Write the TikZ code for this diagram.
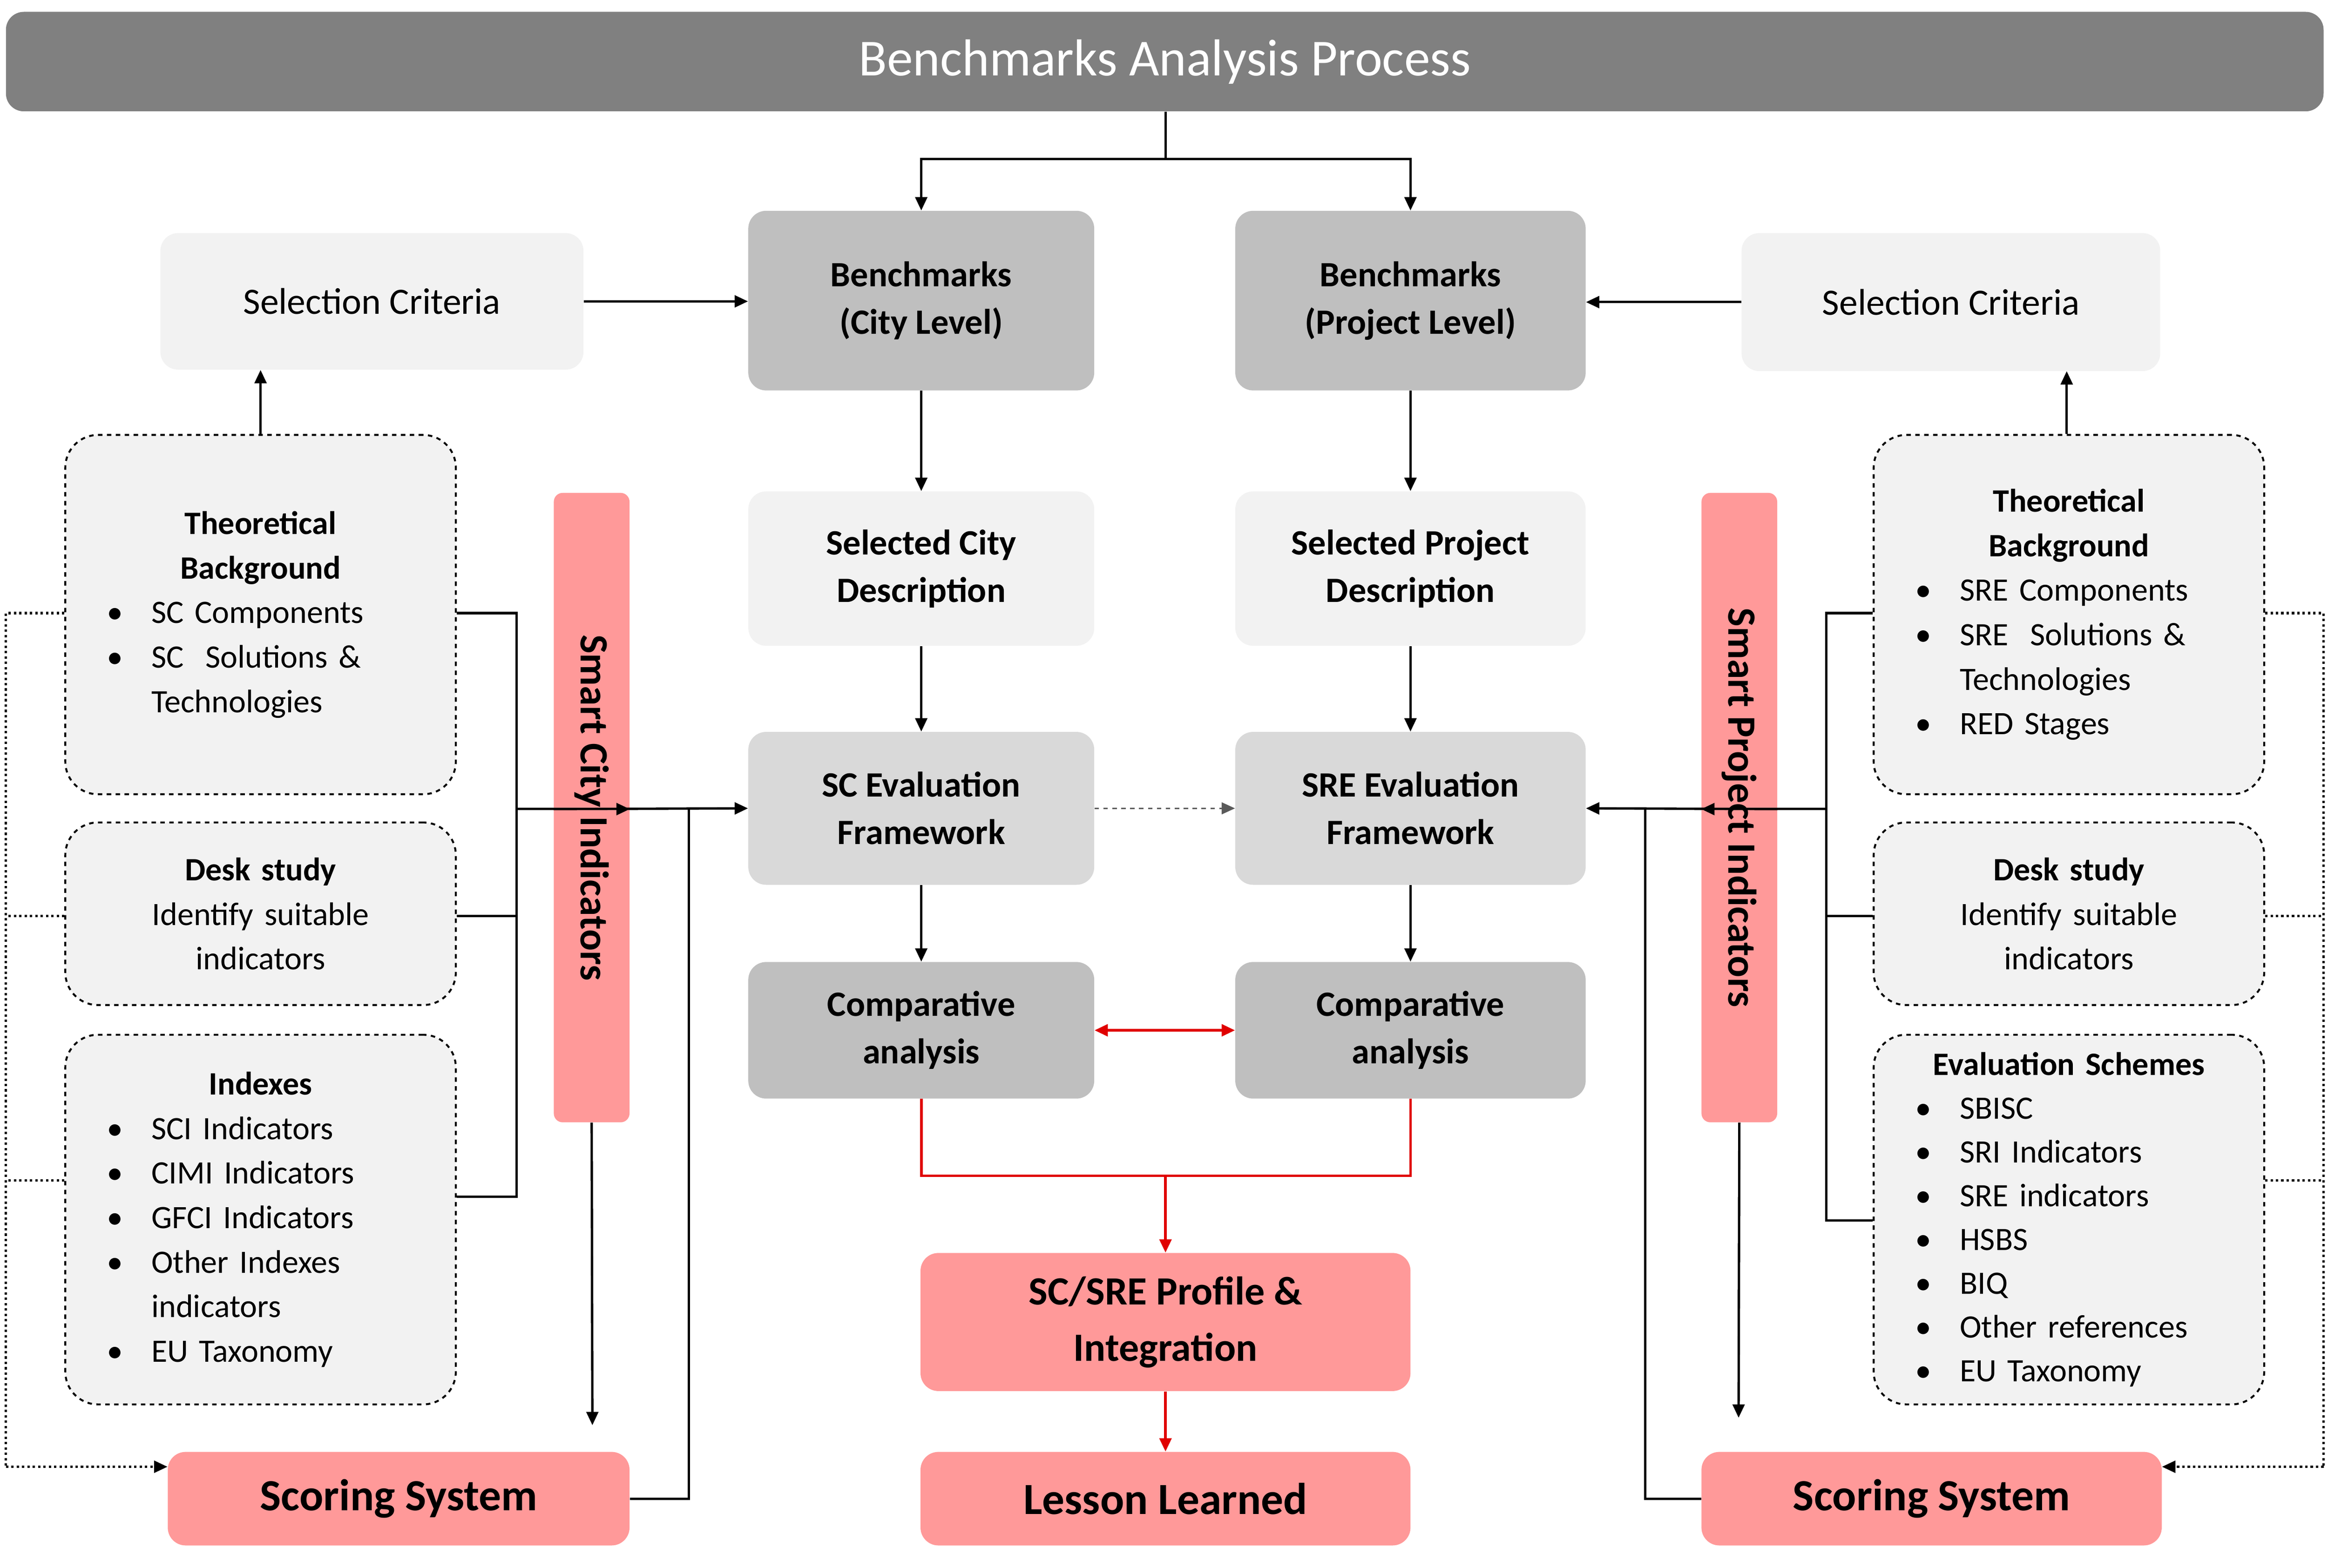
\documentclass[tikz,border=0pt]{standalone}
\usepackage{fontspec}
\setmainfont{Carlito}
\usetikzlibrary{arrows.meta}
\definecolor{gT}{HTML}{808080}
\definecolor{gB}{HTML}{BFBFBF}
\definecolor{gE}{HTML}{D9D9D9}
\definecolor{gL}{HTML}{F2F2F2}
\definecolor{pk}{HTML}{FF9999}
\definecolor{rd}{HTML}{E00000}
\newcommand{\bul}[1]{\hspace*{4pt}\makebox[30pt][l]{\textbullet}#1}
\newcommand{\cnt}[1]{\hspace*{34pt}#1}
\begin{document}
\begin{tikzpicture}[x=1pt,y=-1pt,
 box/.style={rounded corners=12pt,draw=none,align=center,inner sep=0pt},
 dbox/.style={rounded corners=22pt,draw,dashed,line width=1.3pt,fill=gL,inner sep=0pt,minimum width=263pt,text width=215pt},
 ar/.style={-{Triangle[length=9pt,width=8pt]},line width=1.6pt},
 rar/.style={-{Triangle[length=9pt,width=8pt]},line width=1.8pt,rd},
 dar/.style={-{Triangle[length=9pt,width=8pt]},line width=1.6pt,dotted},
 ln/.style={line width=1.6pt}]
\useasboundingbox (0,0) rectangle (1568,1056);
\node[box,fill=gT,minimum width=1561pt,minimum height=67pt,text=white,font=\fontsize{35}{40}\selectfont] (T) at (784.5,41.5) {Benchmarks Analysis Process};
\node[box,fill=gL,minimum width=285pt,minimum height=92pt,font=\fontsize{25}{30}\selectfont] (SL) at (250.5,203) {Selection Criteria};
\node[box,fill=gL,minimum width=282pt,minimum height=93pt,font=\fontsize{25}{30}\selectfont] (SR) at (1314,203.5) {Selection Criteria};
\tikzset{bf/.style={font=\fontsize{24}{32}\selectfont\bfseries}}
\node[box,bf,fill=gB,minimum width=233pt,minimum height=121pt] (BC) at (620.5,202.5) {Benchmarks\\(City Level)};
\node[box,bf,fill=gB,minimum width=236pt,minimum height=121pt] (BP) at (950,202.5) {Benchmarks\\(Project Level)};
\node[box,bf,fill=gL,minimum width=233pt,minimum height=104pt] (DC) at (620.5,383) {Selected City\\Description};
\node[box,bf,fill=gL,minimum width=236pt,minimum height=104pt] (DP) at (950,383) {Selected Project\\Description};
\node[box,bf,fill=gE,minimum width=233pt,minimum height=103pt] (EC) at (620.5,544.5) {SC Evaluation\\Framework};
\node[box,bf,fill=gE,minimum width=236pt,minimum height=103pt] (EP) at (950,544.5) {SRE Evaluation\\Framework};
\node[box,bf,fill=gB,minimum width=233pt,minimum height=92pt] (CC) at (620.5,694) {Comparative\\analysis};
\node[box,bf,fill=gB,minimum width=236pt,minimum height=92pt] (CP) at (950,694) {Comparative\\analysis};
\node[box,fill=pk,minimum width=330pt,minimum height=93pt,font=\fontsize{27}{38}\selectfont\bfseries] (PR) at (785,890.5) {SC/SRE Profile \&\\Integration};
\node[box,fill=pk,minimum width=330pt,minimum height=63pt,font=\fontsize{30}{36}\selectfont\bfseries] (LL) at (785,1009.5) {Lesson Learned};
\node[box,fill=pk,minimum width=311pt,minimum height=63pt,font=\fontsize{30}{36}\selectfont\bfseries] (SSL) at (268.5,1009.5) {Scoring System};
\node[box,fill=pk,minimum width=310pt,minimum height=63pt,font=\fontsize{30}{36}\selectfont\bfseries] (SSR) at (1301,1009.5) {Scoring System};
\node[box,rounded corners=6pt,fill=pk,minimum width=424pt,minimum height=51pt,rotate=-90,font=\fontsize{27}{32}\selectfont\bfseries] (SCI) at (398.5,544) {Smart City Indicators};
\node[box,rounded corners=6pt,fill=pk,minimum width=424pt,minimum height=51pt,rotate=-90,font=\fontsize{27}{32}\selectfont\bfseries] (SPI) at (1171.5,544) {Smart Project Indicators};
\tikzset{bt/.style={font=\fontsize{22}{30}\selectfont}}
\node[dbox,bt,minimum height=242pt] (TBL) at (175.5,414) {{\centering\textbf{Theoretical\\Background}\par}\bul{SC Components}\\\bul{SC\ \ Solutions \&}\\\cnt{Technologies}};
\node[dbox,bt,minimum height=123pt] (DKL) at (175.5,615.5) {{\centering\textbf{Desk study}\\Identify suitable\\indicators\par}};
\node[dbox,bt,minimum height=249pt] (IXL) at (175.5,821.5) {{\centering\textbf{Indexes}\par}\bul{SCI Indicators}\\\bul{CIMI Indicators}\\\bul{GFCI Indicators}\\\bul{Other Indexes}\\\cnt{indicators}\\\bul{EU Taxonomy}};
\node[dbox,bt,minimum height=242pt] (TBR) at (1393.5,414) {{\centering\textbf{Theoretical\\Background}\par}\bul{SRE Components}\\\bul{SRE\ \ Solutions \&}\\\cnt{Technologies}\\\bul{RED Stages}};
\node[dbox,bt,minimum height=123pt] (DKR) at (1393.5,615.5) {{\centering\textbf{Desk study}\\Identify suitable\\indicators\par}};
\node[dbox,bt,minimum height=249pt,font=\fontsize{22}{29.5}\selectfont] (EVR) at (1393.5,821.5) {{\centering\textbf{Evaluation Schemes}\par}\bul{SBISC}\\\bul{SRI Indicators}\\\bul{SRE indicators}\\\bul{HSBS}\\\bul{BIQ}\\\bul{Other references}\\\bul{EU Taxonomy}};
% top split
\coordinate (tj) at (785,107);
\draw[ln] (T.south -| tj) -- (tj);
\draw[ar] (tj) -| (BC.north);
\draw[ar] (tj) -| (BP.north);
\draw[ar] (SL.east) -- (BC.west |- SL.east);
\draw[ar] (SR.west) -- (BP.east |- SR.west);
\draw[ar] (TBL.north) -- (TBL.north |- SL.south);
\draw[ar] (TBR.north -| 1392,0) -- (1392,250);
\draw[ar] (BC) -- (DC); \draw[ar] (DC) -- (EC); \draw[ar] (EC) -- (CC);
\draw[ar] (BP) -- (DP); \draw[ar] (DP) -- (EP); \draw[ar] (EP) -- (CP);
\draw[-{Triangle[length=9pt,width=8pt]},line width=0.9pt,dashed,gT!70!black] (EC) -- (EP);
\draw[{Triangle[length=9pt,width=8pt]}-{Triangle[length=9pt,width=8pt]},line width=1.8pt,rd] (CC) -- (CP);
\coordinate (rj) at (785,792);
\draw[line width=1.8pt,rd] (CC.south) |- (rj) -| (CP.south);
\draw[rar] (rj) -- (PR.north);
\draw[rar] (PR) -- (LL);
% left bracket
\coordinate (bl) at (348,545);
\draw[ln] (TBL.east |- 0,413) -| (348,806) -- (IXL.east |- 0,806);
\draw[ln] (DKL.east |- 0,617) -- (348,617);
\draw[ar] (bl) -- (SCI.north |- bl);
\draw[ar] (SCI.south |- bl) -- (EC.west);
\draw[ln] (SSL.east) -| (464,545);
\draw[ar] (SCI.east) -- (399,960);
% left dotted
\draw[line width=1.6pt,dotted] (TBL.west |- 0,413) -- (4,413) -- (4,988);
\draw[line width=1.6pt,dotted] (DKL.west |- 0,617) -- (4,617);
\draw[line width=1.6pt,dotted] (IXL.west |- 0,795) -- (4,795);
\draw[dar] (4,988) -- (SSL.west |- 0,988);
% right bracket
\coordinate (br) at (1230,545);
\draw[ln] (TBR.west |- 0,413) -| (1230,822) -- (EVR.west |- 0,822);
\draw[ln] (DKR.west |- 0,617) -- (1230,617);
\draw[ar] (br) -- (SPI.south |- br);
\draw[ar] (SPI.north |- br) -- (EP.east);
\draw[ln] (SSR.west) -| (1108,545);
\draw[ar] (SPI.east) -- (1171,955);
% right dotted
\draw[line width=1.6pt,dotted] (TBR.east |- 0,413) -- (1565,413) -- (1565,988);
\draw[line width=1.6pt,dotted] (DKR.east |- 0,617) -- (1565,617);
\draw[line width=1.6pt,dotted] (EVR.east |- 0,795) -- (1565,795);
\draw[dar] (1565,988) -- (SSR.east |- 0,988);
\end{tikzpicture}
\end{document}
